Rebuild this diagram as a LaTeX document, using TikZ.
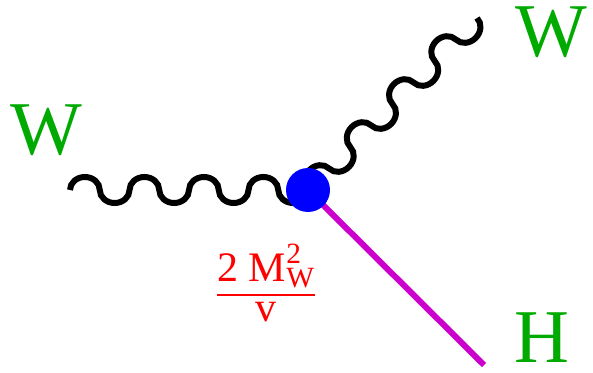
\documentclass[tikz,border=0pt]{standalone}
\usepackage{amsmath}
\usepackage{fontspec}
\setmainfont{Liberation Serif}
\usepackage{tikz}
\definecolor{wgreen}{RGB}{0,170,0}
\definecolor{hmagenta}{RGB}{204,0,204}
\tikzset{
  wave/.style={line width=6pt, black},
  hig/.style={line width=6pt, hmagenta},
  blob/.style={circle, fill=blue, minimum size=44pt, inner sep=0pt},
  lbl/.style={text=wgreen, font=\fontsize{76}{80}\selectfont,
    inner sep=0pt, anchor=base, text height=0.67em, text depth=0pt}
}
\begin{document}
\begin{tikzpicture}[x=1pt, y=1pt]
  \useasboundingbox (0,0) rectangle (593,372);
  \coordinate (v) at (308,182);
  \coordinate (wlend) at (70,182);
  \coordinate (wrend) at (477,354);
  \coordinate (hend) at (484,7);

  \draw[hig] (v) -- (hend);
  % W lines: half ellipses, up and down in turn
  \draw[wave] (wlend)
    \foreach \i in {1,...,4} {
      arc[start angle=180, end angle=0, x radius=14.875pt, y radius=13pt]
      arc[start angle=180, end angle=360, x radius=14.875pt, y radius=13pt]
    };
  \draw[wave, rotate=45.5] (v)
    \foreach \i in {1,...,4} {
      arc[start angle=180, end angle=0, x radius=15.07pt, y radius=13pt]
      arc[start angle=180, end angle=360, x radius=15.07pt, y radius=13pt]
    };
  \node[blob] (vtx) at (v) {};

  \node[lbl] (wl) at (46,217) {W};
  \node[lbl] (wr) at (551,315) {W};
  \node[lbl] (hl) at (542,10) {H};
  \node[text=red, font=\fontsize{42}{48}\selectfont, inner sep=0pt]
    (cpl) at (266,89)
    {$\genfrac{}{}{2pt}{0}{\text{2 M}^{\text{2}}_{\text{W}}}{\text{v}}$};
\end{tikzpicture}
\end{document}
